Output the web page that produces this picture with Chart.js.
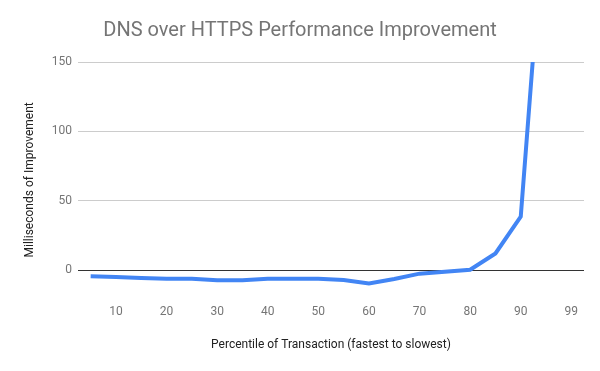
<!DOCTYPE html>
<html>
<head>
<meta charset="utf-8">
<script src="https://cdn.jsdelivr.net/npm/chart.js@4/dist/chart.umd.min.js"></script>
<style>
  html, body { margin: 0; padding: 0; background: #fff; }
  #wrap { width: 600px; height: 371px; }
</style>
</head>
<body>
<div id="wrap"><canvas id="chart"></canvas></div>
<script>
// percentile buckets (x axis) and improvement in ms
const percentiles = ['5', '10', '15', '20', '25', '30', '35', '40', '45', '50',
  '55', '60', '65', '70', '75', '80', '85', '90', '95', '99'];
const improvementMs = [-4.5, -5, -5.8, -6.2, -6.2, -7.4, -7.4, -6.2, -6.2, -6.2,
  -7.2, -9.6, -6.5, -2.6, -1.2, 0.2, 12, 38.5, 275, 600];
const yTicks = [0, 50, 100, 150];

const grey = '#757575';

new Chart(document.getElementById('chart'), {
  type: 'line',
  data: {
    labels: percentiles,
    datasets: [{
      data: improvementMs,
      borderColor: '#4285F4',
      borderWidth: 4,
      pointRadius: 0,
      tension: 0,
      fill: false
    }]
  },
  options: {
    responsive: true,
    maintainAspectRatio: false,
    animation: false,
    layout: { padding: { left: 0, right: 0, top: 0, bottom: 10 } },
    plugins: {
      legend: { display: false },
      tooltip: { enabled: false },
      title: {
        display: true,
        text: 'DNS over HTTPS Performance Improvement',
        color: grey,
        font: { family: 'Roboto', size: 20, weight: 'normal' },
        padding: { top: 19, bottom: 19 }
      }
    },
    scales: {
      x: {
        offset: true,
        grid: { display: false, drawTicks: false },
        border: { display: false },
        afterFit: s => { s.height = 63.2; },
        ticks: {
          color: grey,
          font: { family: 'Roboto', size: 12 },
          padding: 7,
          autoSkip: false,
          maxRotation: 0,
          callback: (v, i) => (i % 2 === 1 ? percentiles[i] : '')
        },
        title: {
          display: true,
          text: 'Percentile of Transaction (fastest to slowest)',
          color: '#222',
          font: { family: 'Roboto', size: 12 },
          padding: { top: 10, bottom: 8.8 }
        }
      },
      y: {
        min: -20,
        max: 150,
        afterBuildTicks: axis => { axis.ticks = yTicks.map(v => ({ value: v })); },
        afterFit: s => { s.width = 78; },
        grid: {
          drawTicks: false,
          color: c => (c.tick && c.tick.value === 0 ? '#333' : '#ccc'),
          lineWidth: 1
        },
        border: { display: false },
        ticks: {
          color: grey,
          font: { family: 'Roboto', size: 12 },
          padding: 6
        },
        title: {
          display: true,
          text: 'Milliseconds of Improvement',
          color: '#222',
          font: { family: 'Roboto', size: 12 },
          padding: { top: 22.5, bottom: 4 }
        }
      },
      // empty strip on the right so the plot ends where the original does
      pad: {
        position: 'right',
        display: true,
        grid: { display: false, drawTicks: false },
        border: { display: false },
        ticks: { display: false },
        afterFit: s => { s.width = 16; }
      }
    }
  }
});
</script>
</body>
</html>
